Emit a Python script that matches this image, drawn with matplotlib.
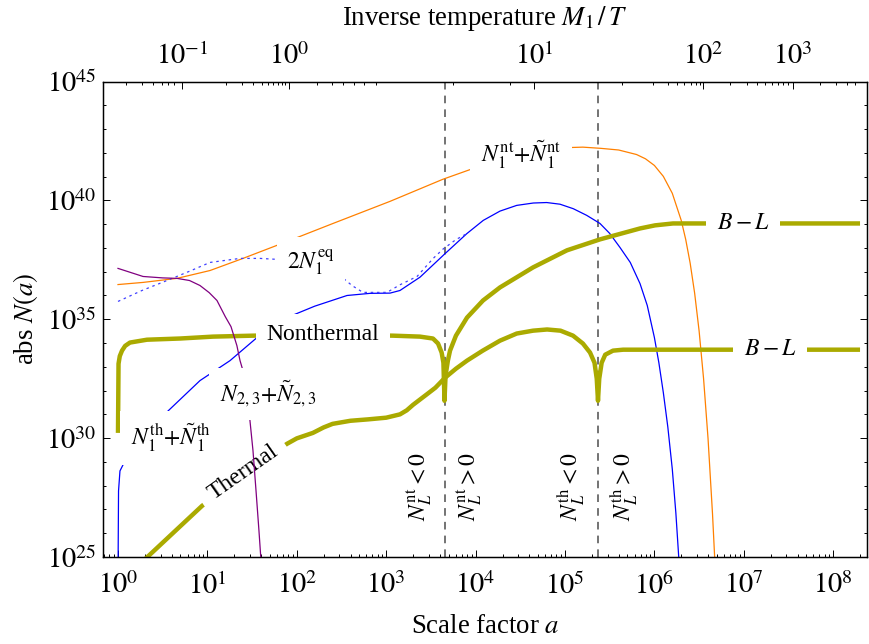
import numpy as np
import matplotlib
matplotlib.use('Agg')
import matplotlib.pyplot as plt
import matplotlib.ticker as ticker

plt.rcParams['font.family'] = ['Liberation Serif', 'DejaVu Serif']
plt.rcParams['mathtext.fontset'] = 'stix'

# curves, as (log10 a, log10 |N|)
orange_loga = [0.0, 0.28, 0.66, 1.029, 1.398, 1.924, 2.405, 3.043, 3.635, 4.016, 4.497, 4.75,
               5.022, 5.2, 5.4, 5.6, 5.8, 5.9, 6.0, 6.1, 6.2, 6.3, 6.35, 6.4, 6.45, 6.5,
               6.55, 6.6, 6.65, 6.68]
orange_logn = [36.46, 36.55, 36.72, 37.05, 37.56, 38.32, 39.03, 39.96, 40.89, 41.40, 41.82, 42.05,
               42.22, 42.24, 42.19, 42.12, 41.93, 41.75, 41.47, 41.01, 40.30, 39.16, 38.36,
               37.36, 36.10, 34.51, 32.50, 29.98, 26.81, 24.53]

blue_loga = [0.0, 0.006, 0.022, 0.078, 0.134, 0.503, 0.917, 1.253, 1.555, 1.812, 2.2, 2.562,
             2.819, 3.043, 3.154, 3.378, 3.658, 3.901, 4.086, 4.273, 4.460, 4.646, 4.795,
             4.944, 5.093, 5.243, 5.391, 5.5, 5.615, 5.73, 5.839, 5.92, 6.0, 6.05, 6.1,
             6.15, 6.2, 6.24, 6.275]
blue_logn = [24.0, 27.78, 28.62, 29.04, 29.34, 30.94, 32.42, 33.26, 34.23, 34.95, 35.55, 36.00,
             36.09, 36.10, 36.21, 36.77, 37.76, 38.60, 39.16, 39.55, 39.79, 39.89, 39.91,
             39.84, 39.65, 39.37, 39.03, 38.61, 38.02, 37.39, 36.50, 35.58, 34.23, 33.17, 31.91,
             30.47, 28.70, 26.85, 24.83]

eq_loga = [0.0, 0.268, 0.548, 0.8, 1.029, 1.365, 1.588, 1.779, 2.148, 2.483, 2.617, 2.740,
           3.009, 3.154, 3.345, 3.523, 3.635, 3.78, 3.90]
eq_logn = [35.75, 36.21, 36.63, 37.02, 37.39, 37.56, 37.56, 37.52, 37.26, 36.84, 36.42, 36.13,
           36.13, 36.45, 36.80, 37.55, 37.95, 38.35, 38.60]

purple_loga = [0.0, 0.28, 0.50, 0.66, 0.80, 0.917, 1.02, 1.107, 1.20, 1.264, 1.33, 1.365, 1.421,
               1.465, 1.510, 1.544, 1.577, 1.60]
purple_logn = [37.14, 36.80, 36.74, 36.72, 36.63, 36.42, 36.12, 35.79, 35.11, 34.69, 33.89, 33.26,
               32.54, 31.15, 29.47, 27.78, 26.09, 24.83]

nonth_loga = [0.0, 0.006, 0.02, 0.045, 0.08, 0.134, 0.324, 0.694, 1.063, 1.510, 2.371, 3.076,
              3.378, 3.523, 3.58, 3.62, 3.64, 3.652, 3.664, 3.69, 3.714, 3.78, 3.904, 4.083,
              4.273, 4.642, 5.022, 5.391, 5.615, 5.839, 6.007, 6.208, 8.30]
nonth_logn = [30.22, 33.13, 33.45, 33.68, 33.88, 34.02, 34.14, 34.19, 34.27, 34.31, 34.35, 34.31,
              34.27, 34.19, 33.98, 33.60, 33.17, 31.57, 32.63, 33.26, 33.68, 34.31, 35.07, 35.79,
              36.34, 37.18, 37.90, 38.36, 38.59, 38.82, 38.95, 39.03, 39.03]

therm_loga = [0.28, 0.94, 1.421, 1.890, 2.0, 2.18, 2.3, 2.4, 2.6, 2.8, 3.0, 3.154, 3.23, 3.3,
              3.45, 3.55, 3.658, 3.78, 3.904, 4.08, 4.273, 4.46, 4.642, 4.80, 4.95, 5.09, 5.20,
              5.28, 5.33, 5.355, 5.369, 5.383, 5.41, 5.45, 5.537, 5.65, 8.30]
therm_logn = [24.83, 27.15, 28.54, 29.76, 29.99, 30.22, 30.45, 30.60, 30.73, 30.79, 30.86, 31.00,
              31.17, 31.40, 31.83, 32.12, 32.54, 32.92, 33.26, 33.68, 34.10, 34.40, 34.52, 34.57,
              34.52, 34.31, 33.98, 33.60, 33.17, 32.50, 31.57, 32.50, 33.17, 33.51, 33.68, 33.72,
              33.72]

# sign changes of N_L (dashed lines)
a_sign_nt = 4.49e3
a_sign_th = 2.34e5

# top axis: inverse temperature M1/T against log10 a
top_major_exp = [-1, 0, 1, 2, 3]
top_major_loga = [0.716, 1.913, 4.653, 6.544, 7.550]
top_minor_loga = [0.089, 0.268, 0.391, 0.492, 0.559, 0.626,
                  1.208, 1.387, 1.510, 1.611, 1.678, 1.734, 1.790, 1.834, 1.868,
                  2.226, 2.394, 2.517, 2.640, 2.752, 2.886, 3.747, 4.385,
                  5.638, 5.984, 6.152, 6.253, 6.331, 6.409, 6.465, 6.510,
                  6.846, 7.036, 7.148, 7.237, 7.315, 7.383, 7.438, 7.494,
                  7.852, 8.031, 8.154, 8.244]

olive = '#aaaa00'
thin = 0.9
thick = 3.2
lab_fs = 17
tick_fs = 20.5
axis_fs = 19.3

fig = plt.figure(figsize=(8.69, 6.44), dpi=100)
ax = fig.add_axes([0.1185, 0.1351, 0.8792, 0.7383])

ax.plot(10**np.array(orange_loga), 10**np.array(orange_logn), color='#ff8000', lw=thin, zorder=2)
ax.plot(10**np.array(blue_loga), 10**np.array(blue_logn), color='#0000ff', lw=thin, zorder=2)
ax.plot(10**np.array(eq_loga), 10**np.array(eq_logn), color='#4040ff', lw=thin,
        dashes=(2, 3), zorder=2)
ax.plot(10**np.array(nonth_loga), 10**np.array(nonth_logn), color=olive, lw=thick,
        solid_capstyle='butt', zorder=2)
ax.plot(10**np.array(therm_loga), 10**np.array(therm_logn), color=olive, lw=thick,
        solid_capstyle='butt', zorder=2)
ax.plot(10**np.array(purple_loga), 10**np.array(purple_logn), color='#800080', lw=thin, zorder=4)

for a_s in (a_sign_nt, a_sign_th):
    ax.axvline(a_s, color='#4d4d4d', lw=1.1, dashes=(5, 4), zorder=1)

box = dict(facecolor='white', edgecolor='none', boxstyle='square,pad=0.45')

def label(x, y, s, rot=0, z=5):
    ax.text(x, y, s, fontsize=lab_fs, ha='center', va='center', rotation=rot,
            rotation_mode='anchor', bbox=box, zorder=z)

label(10**2.293, 10**34.35, 'Nonthermal')
label(10**1.40, 10**28.54, 'Thermal', rot=35, z=3)
label(10**2.159, 10**37.39, r'$2N_1^{\rm eq}$')
label(10**4.508, 10**41.90, r'$N_1^{\rm nt}{+}\tilde{N}_1^{\rm nt}$')
label(10**1.678, 10**31.87, r'$N_{2,3}{+}\tilde{N}_{2,3}$')
label(10**0.593, 10**30.01, r'$N_1^{\rm th}{+}\tilde{N}_1^{\rm th}$')
label(10**6.991, 10**39.03, r'$B-L$')
label(10**7.293, 10**33.72, r'$B-L$')

y_sign = 10**27.95
for a_s, kind, dx in ((a_sign_nt, 'nt', -18), (a_sign_th, 'th', -19)):
    ax.annotate(r'$N_L^{\rm %s} < 0$' % kind, (a_s, y_sign), xytext=(dx, 0),
                textcoords='offset points', rotation=90, fontsize=lab_fs,
                ha='center', va='center')
    ax.annotate(r'$N_L^{\rm %s} > 0$' % kind, (a_s, y_sign), xytext=(-dx, 0),
                textcoords='offset points', rotation=90, fontsize=lab_fs,
                ha='center', va='center')

ax.set_xscale('log')
ax.set_yscale('log')
ax.set_xlim(10**-0.168, 10**8.378)
ax.set_ylim(1e25, 1e45)

x_major = [10.0**k for k in range(0, 9)]
x_minor = [m * 10.0**k for k in range(-1, 9) for m in range(2, 10)]
y_major = [10.0**k for k in range(25, 46, 5)]
y_minor = [10.0**k for k in range(25, 46)]
ax.xaxis.set_major_locator(ticker.FixedLocator(x_major))
ax.xaxis.set_minor_locator(ticker.FixedLocator(x_minor))
ax.xaxis.set_major_formatter(ticker.FixedFormatter([r'$10^{%d}$' % k for k in range(0, 9)]))
ax.xaxis.set_minor_formatter(ticker.NullFormatter())
ax.yaxis.set_major_locator(ticker.FixedLocator(y_major))
ax.yaxis.set_minor_locator(ticker.FixedLocator(y_minor))
ax.yaxis.set_major_formatter(ticker.FixedFormatter([r'$10^{%d}$' % k for k in range(25, 46, 5)]))
ax.yaxis.set_minor_formatter(ticker.NullFormatter())

ax.tick_params(which='both', direction='in', top=False, right=True, width=0.7)
ax.tick_params(which='major', length=5, labelsize=tick_fs)
ax.tick_params(which='minor', length=2.5)
ax.tick_params(axis='x', pad=11)
ax.tick_params(axis='y', pad=5)
for sp in ax.spines.values():
    sp.set_linewidth(1.0)

ax.set_xlabel(r'Scale factor $a$', fontsize=axis_fs, labelpad=10)
ax.set_ylabel(r'abs $N(a)$', fontsize=axis_fs, labelpad=4)

top = ax.twiny()
top.set_xscale('log')
top.set_xlim(ax.get_xlim())
top.xaxis.set_major_locator(ticker.FixedLocator([10.0**v for v in top_major_loga]))
top.xaxis.set_minor_locator(ticker.FixedLocator([10.0**v for v in top_minor_loga]))
top.xaxis.set_major_formatter(ticker.FixedFormatter([r'$10^{%d}$' % k for k in top_major_exp]))
top.xaxis.set_minor_formatter(ticker.NullFormatter())
top.tick_params(which='both', direction='in', width=0.7, pad=8)
top.tick_params(which='major', length=5, labelsize=tick_fs)
top.tick_params(which='minor', length=2.5)
top.set_xlabel(r'Inverse temperature $M_1\,/\,T$', fontsize=axis_fs, labelpad=13)

fig.savefig('out.png', dpi=100)
